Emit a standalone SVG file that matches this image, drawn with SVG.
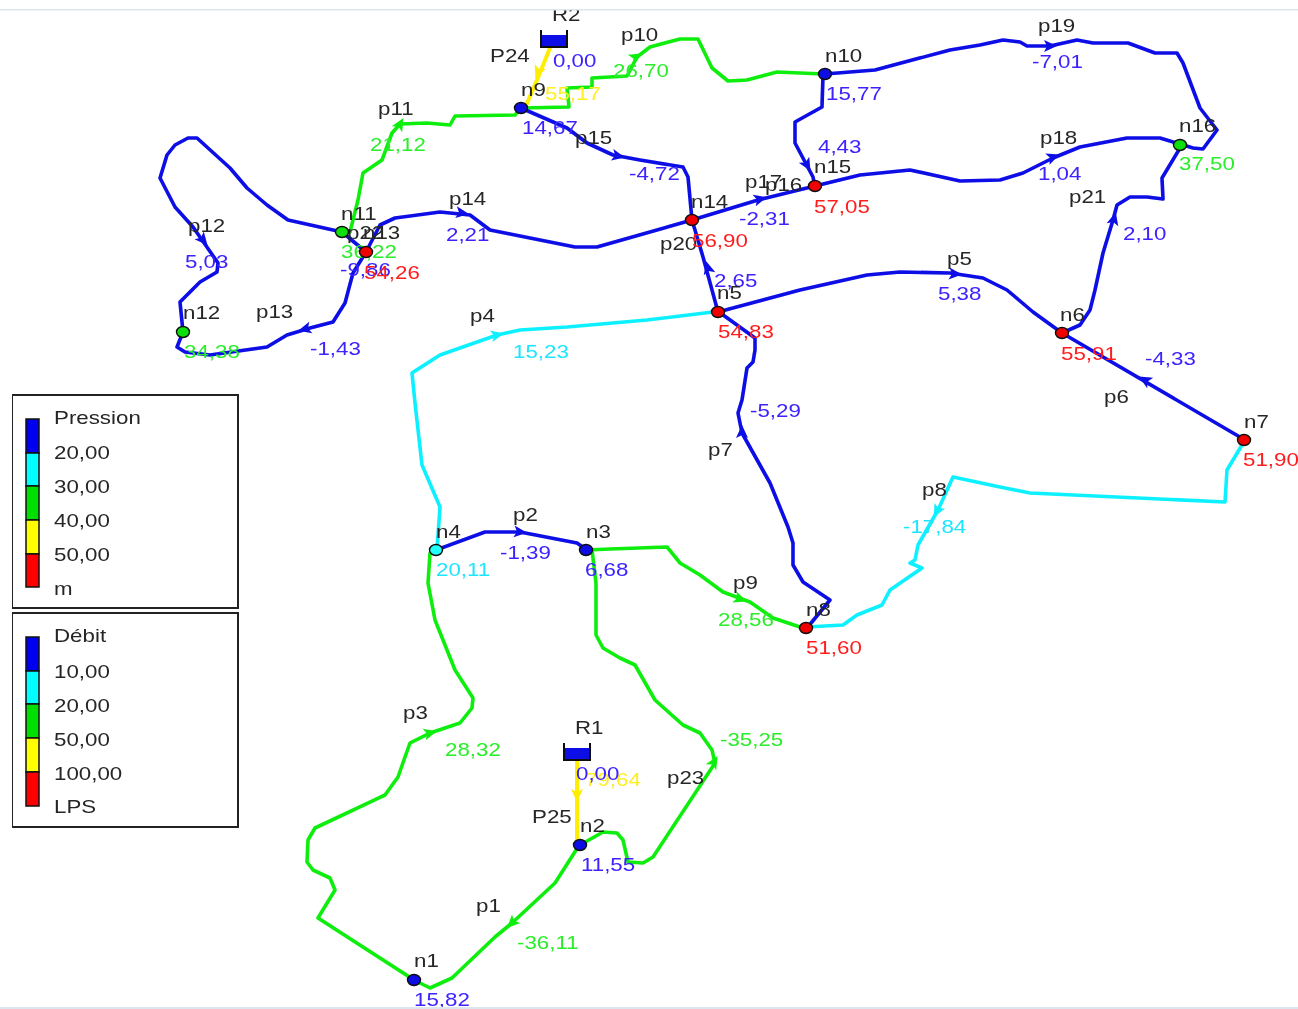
<svg xmlns="http://www.w3.org/2000/svg" xmlns:xlink="http://www.w3.org/1999/xlink" width="1298" height="1009" viewBox="0 0 1298 1009">
<style>
text{font-family:"Liberation Sans",Arial,sans-serif;font-size:18px;fill:#262626}
.tb{fill:#3c22ff}.tg{fill:#2aee2a}.tr{fill:#ff1e1e}.tc{fill:#1ee6ff}.ty{fill:#ffee22}
.pipe{fill:none;stroke-width:3.6;stroke-linejoin:round;stroke-linecap:round}
.b{stroke:#0a0ae6}.g{stroke:#10ee10}.c{stroke:#0ff0ff}.y{stroke:#ffee00;stroke-width:4}
.fb{fill:#0a0ae6}.fg{fill:#10ee10}.fc{fill:#0ff0ff}.fy{fill:#ffee00}
ellipse{stroke:#111;stroke-width:1.4}
.nb{fill:#0a0ae6}.ng{fill:#10e010}.nr{fill:#f00000}.nc{fill:#22ffff}
.box{fill:#fff;stroke:#222;stroke-width:2}
.seg{stroke:#111;stroke-width:1.5}
</style>
<defs>
<filter id="soft" x="0" y="0" width="100%" height="100%"><feGaussianBlur stdDeviation="0.4"/></filter>
<polygon id="a" points="7,0 -6,-6 -3,0 -6,6"/>
</defs>
<rect width="1298" height="1009" fill="#fff"/>
<g filter="url(#soft)">
<g id="connectors">
<path class="pipe g" d="M414 980L430 988L452 978L495 937L512 923L555 883L578 847"/>
<path class="pipe g" d="M414 980L318 918L335 890L330 878L313 870L307 862L308 840L315 828L385 795L398 777L405 757L410 743L430 733L460 723L472 708L473 698L455 670L435 620L428 583L430 553"/>
<path class="pipe b" d="M436 550L485 532L520 532L577 543L587 550"/>
<path class="pipe g" d="M586 550L610 549L667 547L680 563L700 575L723 592L750 602L773 618L800 627L806 628"/>
<path class="pipe g" d="M592 550L596 583L596 635L603 648L620 658L635 665L655 700L683 725L700 733L712 750L715 763L653 857L643 863L628 862L623 840L617 833L603 832L580 845"/>
<path class="pipe y" d="M577 760L577 845"/>
<path class="pipe y" d="M550 48L537 80L525 108"/>
<path class="pipe g" d="M522 108L569 107L567 88L592 87L592 78L627 76L637 57L650 47L680 39L698 39L712 68L728 81L747 80L777 72L823 74"/>
<path class="pipe g" d="M521 108L515 115L455 116L450 125L427 123L400 124L392 133L382 160L363 173L358 200L350 232"/>
<path class="pipe b" d="M521 108L567 128L587 143L613 155L640 160L683 167L688 177L692 220"/>
<path class="pipe b" d="M692 220L597 247L575 247L490 230L470 215L440 212L395 218L380 225L366 252"/>
<path class="pipe b" d="M692 220L758 200L815 186"/>
<path class="pipe b" d="M692 220L703 257L718 312"/>
<path class="pipe b" d="M718 312L800 290L867 275L900 272L950 273L983 278L1007 290L1033 312L1062 333"/>
<path class="pipe b" d="M1062 333L1245 440"/>
<path class="pipe b" d="M719 312L755 338L755 350L753 362L747 368L742 400L738 413L742 433L770 483L788 527L793 543L793 565L803 582L830 600L807 628"/>
<path class="pipe c" d="M807 627L843 625L857 615L882 605L890 590L922 568L910 563L915 560L918 545L938 510L953 477L1000 487L1030 493L1225 502L1227 470L1245 440"/>
<path class="pipe c" d="M713 312L647 320L567 327L520 330L497 335L440 355L412 373L415 403L422 465L440 507L437 550"/>
<path class="pipe b" d="M1062 333L1080 325L1090 310L1095 290L1103 253L1113 220L1117 205L1130 197L1147 197L1163 199L1162 178L1180 148"/>
<path class="pipe b" d="M815 186L860 175L910 170L960 181L1000 180L1023 173L1053 158L1080 147L1127 138L1160 138L1180 144"/>
<path class="pipe b" d="M825 74L875 70L950 50L980 45L1003 40L1020 42L1027 46L1050 46L1077 40L1093 43L1128 43L1155 53L1177 53L1183 63L1200 108L1217 130L1203 149L1193 148L1180 144"/>
<path class="pipe b" d="M823 75L822 107L795 122L795 143L813 177L815 187"/>
<path class="pipe b" d="M342 232L288 220L267 205L247 188L230 168L197 138L188 138L175 145L167 155L160 178L175 207L193 227L218 263L217 272L200 282L180 302L183 332"/>
<path class="pipe b" d="M183 332L177 347L185 352L210 355L267 347L287 335L310 328L333 322L345 303L353 273L366 252"/>
<path class="pipe b" d="M342 232L366 252"/>
<use xlink:href="#a" class="fg" transform="translate(512 923) rotate(135)"/>
<use xlink:href="#a" class="fb" transform="translate(520 532) rotate(6)"/>
<use xlink:href="#a" class="fg" transform="translate(430 733) rotate(-15)"/>
<use xlink:href="#a" class="fc" transform="translate(497 335) rotate(-12)"/>
<use xlink:href="#a" class="fb" transform="translate(955 274) rotate(5)"/>
<use xlink:href="#a" class="fb" transform="translate(1145 380) rotate(210)"/>
<use xlink:href="#a" class="fb" transform="translate(742 432) rotate(-90)"/>
<use xlink:href="#a" class="fc" transform="translate(937 511) rotate(118)"/>
<use xlink:href="#a" class="fg" transform="translate(740 599) rotate(20)"/>
<use xlink:href="#a" class="fg" transform="translate(636 57) rotate(-30)"/>
<use xlink:href="#a" class="fg" transform="translate(400 124) rotate(-60)"/>
<use xlink:href="#a" class="fb" transform="translate(203 240) rotate(50)"/>
<use xlink:href="#a" class="fb" transform="translate(305 329) rotate(165)"/>
<use xlink:href="#a" class="fb" transform="translate(462 213) rotate(8)"/>
<use xlink:href="#a" class="fb" transform="translate(618 156) rotate(12)"/>
<use xlink:href="#a" class="fb" transform="translate(760 199) rotate(-15)"/>
<use xlink:href="#a" class="fb" transform="translate(1053 157) rotate(-20)"/>
<use xlink:href="#a" class="fb" transform="translate(1050 46) rotate(0)"/>
<use xlink:href="#a" class="fb" transform="translate(708 268) rotate(-105)"/>
<use xlink:href="#a" class="fb" transform="translate(1114 219) rotate(-75)"/>
<use xlink:href="#a" class="fb" transform="translate(807 165) rotate(60)"/>
<use xlink:href="#a" class="fy" transform="translate(538 72) rotate(112)"/>
<use xlink:href="#a" class="fy" transform="translate(577 795) rotate(90)"/>
<use xlink:href="#a" class="fg" transform="translate(714 762) rotate(-60)"/>
</g>
<g id="pipe-labels">
<text transform="matrix(1.24 0 0 1 490 62)">P24</text>
<text transform="matrix(1.24 0 0 1 545 100)" class="ty">55,17</text>
<text transform="matrix(1.24 0 0 1 621 41)">p10</text>
<text transform="matrix(1.24 0 0 1 613 77)" class="tg">26,70</text>
<text transform="matrix(1.24 0 0 1 1038 32)">p19</text>
<text transform="matrix(1.24 0 0 1 1032 68)" class="tb">-7,01</text>
<text transform="matrix(1.24 0 0 1 818 153)" class="tb">4,43</text>
<text transform="matrix(1.24 0 0 1 575 144)">p15</text>
<text transform="matrix(1.24 0 0 1 629 180)" class="tb">-4,72</text>
<text transform="matrix(1.24 0 0 1 378 115)">p11</text>
<text transform="matrix(1.24 0 0 1 370 151)" class="tg">21,12</text>
<text transform="matrix(1.24 0 0 1 347 239)">p22</text>
<text transform="matrix(1.24 0 0 1 340 276)" class="tb">-9,86</text>
<text transform="matrix(1.24 0 0 1 188 232)">p12</text>
<text transform="matrix(1.24 0 0 1 185 268)" class="tb">5,03</text>
<text transform="matrix(1.24 0 0 1 256 318)">p13</text>
<text transform="matrix(1.24 0 0 1 310 355)" class="tb">-1,43</text>
<text transform="matrix(1.24 0 0 1 449 205)">p14</text>
<text transform="matrix(1.24 0 0 1 446 241)" class="tb">2,21</text>
<text transform="matrix(1.24 0 0 1 470 322)">p4</text>
<text transform="matrix(1.24 0 0 1 513 358)" class="tc">15,23</text>
<text transform="matrix(1.24 0 0 1 660 250)">p20</text>
<text transform="matrix(1.24 0 0 1 714 287)" class="tb">2,65</text>
<text transform="matrix(1.24 0 0 1 745 188)">p17</text>
<text transform="matrix(1.24 0 0 1 765 191)">p16</text>
<text transform="matrix(1.24 0 0 1 739 225)" class="tb">-2,31</text>
<text transform="matrix(1.24 0 0 1 1040 144)">p18</text>
<text transform="matrix(1.24 0 0 1 1038 180)" class="tb">1,04</text>
<text transform="matrix(1.24 0 0 1 1069 203)">p21</text>
<text transform="matrix(1.24 0 0 1 1123 240)" class="tb">2,10</text>
<text transform="matrix(1.24 0 0 1 947 265)">p5</text>
<text transform="matrix(1.24 0 0 1 938 300)" class="tb">5,38</text>
<text transform="matrix(1.24 0 0 1 1145 365)" class="tb">-4,33</text>
<text transform="matrix(1.24 0 0 1 1104 403)">p6</text>
<text transform="matrix(1.24 0 0 1 750 417)" class="tb">-5,29</text>
<text transform="matrix(1.24 0 0 1 708 456)">p7</text>
<text transform="matrix(1.24 0 0 1 922 496)">p8</text>
<text transform="matrix(1.24 0 0 1 903 533)" class="tc">-17,84</text>
<text transform="matrix(1.24 0 0 1 513 521)">p2</text>
<text transform="matrix(1.24 0 0 1 500 559)" class="tb">-1,39</text>
<text transform="matrix(1.24 0 0 1 733 589)">p9</text>
<text transform="matrix(1.24 0 0 1 718 626)" class="tg">28,56</text>
<text transform="matrix(1.24 0 0 1 403 719)">p3</text>
<text transform="matrix(1.24 0 0 1 445 756)" class="tg">28,32</text>
<text transform="matrix(1.24 0 0 1 585 786)" class="ty">79,64</text>
<text transform="matrix(1.24 0 0 1 720 746)" class="tg">-35,25</text>
<text transform="matrix(1.24 0 0 1 667 784)">p23</text>
<text transform="matrix(1.24 0 0 1 532 823)">P25</text>
<text transform="matrix(1.24 0 0 1 476 912)">p1</text>
<text transform="matrix(1.24 0 0 1 517 949)" class="tg">-36,11</text>
</g>
<g id="R1"><rect x="564" y="748" width="26" height="12" fill="#0a0ae6"/><path d="M564 743V760H590V743" fill="none" stroke="#111" stroke-width="2"/><text transform="matrix(1.24 0 0 1 575 734)">R1</text><text transform="matrix(1.24 0 0 1 576 780)" class="tb">0,00</text></g>
<g id="R2"><rect x="541" y="35" width="26" height="12" fill="#0a0ae6"/><path d="M541 30V47H567V30" fill="none" stroke="#111" stroke-width="2"/><text transform="matrix(1.24 0 0 1 552 21)">R2</text><text transform="matrix(1.24 0 0 1 553 67)" class="tb">0,00</text></g>
<g id="n1"><ellipse class="nb" cx="414" cy="980" rx="6.5" ry="5.5"/><text transform="matrix(1.24 0 0 1 414 967)">n1</text><text transform="matrix(1.24 0 0 1 414 1006)" class="tb">15,82</text></g>
<g id="n2"><ellipse class="nb" cx="580" cy="845" rx="6.5" ry="5.5"/><text transform="matrix(1.24 0 0 1 580 832)">n2</text><text transform="matrix(1.24 0 0 1 581 871)" class="tb">11,55</text></g>
<g id="n3"><ellipse class="nb" cx="586" cy="550" rx="6.5" ry="5.5"/><text transform="matrix(1.24 0 0 1 586 538)">n3</text><text transform="matrix(1.24 0 0 1 585 576)" class="tb">6,68</text></g>
<g id="n4"><ellipse class="nc" cx="436" cy="550" rx="6.5" ry="5.5"/><text transform="matrix(1.24 0 0 1 436 538)">n4</text><text transform="matrix(1.24 0 0 1 436 576)" class="tc">20,11</text></g>
<g id="n5"><ellipse class="nr" cx="718" cy="312" rx="6.5" ry="5.5"/><text transform="matrix(1.24 0 0 1 717 299)">n5</text><text transform="matrix(1.24 0 0 1 718 338)" class="tr">54,83</text></g>
<g id="n6"><ellipse class="nr" cx="1062" cy="333" rx="6.5" ry="5.5"/><text transform="matrix(1.24 0 0 1 1060 321)">n6</text><text transform="matrix(1.24 0 0 1 1061 360)" class="tr">55,91</text></g>
<g id="n7"><ellipse class="nr" cx="1244" cy="440" rx="6.5" ry="5.5"/><text transform="matrix(1.24 0 0 1 1244 428)">n7</text><text transform="matrix(1.24 0 0 1 1243 466)" class="tr">51,90</text></g>
<g id="n8"><ellipse class="nr" cx="806" cy="628" rx="6.5" ry="5.5"/><text transform="matrix(1.24 0 0 1 806 616)">n8</text><text transform="matrix(1.24 0 0 1 806 654)" class="tr">51,60</text></g>
<g id="n9"><ellipse class="nb" cx="521" cy="108" rx="6.5" ry="5.5"/><text transform="matrix(1.24 0 0 1 521 96)">n9</text><text transform="matrix(1.24 0 0 1 522 134)" class="tb">14,67</text></g>
<g id="n10"><ellipse class="nb" cx="825" cy="74" rx="6.5" ry="5.5"/><text transform="matrix(1.24 0 0 1 825 62)">n10</text><text transform="matrix(1.24 0 0 1 826 100)" class="tb">15,77</text></g>
<g id="n11"><ellipse class="ng" cx="342" cy="232" rx="6.5" ry="5.5"/><text transform="matrix(1.24 0 0 1 341 220)">n11</text><text transform="matrix(1.24 0 0 1 341 258)" class="tg">36,22</text></g>
<g id="n12"><ellipse class="ng" cx="183" cy="332" rx="6.5" ry="5.5"/><text transform="matrix(1.24 0 0 1 183 319)">n12</text><text transform="matrix(1.24 0 0 1 184 358)" class="tg">34,38</text></g>
<g id="n13"><ellipse class="nr" cx="366" cy="252" rx="6.5" ry="5.5"/><text transform="matrix(1.24 0 0 1 363 239)">n13</text><text transform="matrix(1.24 0 0 1 364 279)" class="tr">54,26</text></g>
<g id="n14"><ellipse class="nr" cx="692" cy="220" rx="6.5" ry="5.5"/><text transform="matrix(1.24 0 0 1 691 208)">n14</text><text transform="matrix(1.24 0 0 1 692 247)" class="tr">56,90</text></g>
<g id="n15"><ellipse class="nr" cx="815" cy="186" rx="6.5" ry="5.5"/><text transform="matrix(1.24 0 0 1 814 173)">n15</text><text transform="matrix(1.24 0 0 1 814 213)" class="tr">57,05</text></g>
<g id="n16"><ellipse class="ng" cx="1180" cy="145" rx="6.5" ry="5.5"/><text transform="matrix(1.24 0 0 1 1179 132)">n16</text><text transform="matrix(1.24 0 0 1 1179 170)" class="tg">37,50</text></g>
<g id="legend-pression">
<rect class="box" x="12" y="395" width="226" height="213"/>
<rect class="seg" x="26" y="419" width="13" height="34" fill="#0000f0"/>
<rect class="seg" x="26" y="453" width="13" height="33" fill="#00ffff"/>
<rect class="seg" x="26" y="486" width="13" height="34" fill="#00e000"/>
<rect class="seg" x="26" y="520" width="13" height="34" fill="#ffff00"/>
<rect class="seg" x="26" y="554" width="13" height="33" fill="#ff0000"/>
<text transform="matrix(1.24 0 0 1 54 424)">Pression</text>
<text transform="matrix(1.24 0 0 1 54 459)">20,00</text>
<text transform="matrix(1.24 0 0 1 54 493)">30,00</text>
<text transform="matrix(1.24 0 0 1 54 527)">40,00</text>
<text transform="matrix(1.24 0 0 1 54 561)">50,00</text>
<text transform="matrix(1.24 0 0 1 54 595)">m</text>
</g>
<g id="legend-debit">
<rect class="box" x="12" y="613" width="226" height="214"/>
<rect class="seg" x="26" y="637" width="13" height="34" fill="#0000f0"/>
<rect class="seg" x="26" y="671" width="13" height="33" fill="#00ffff"/>
<rect class="seg" x="26" y="704" width="13" height="34" fill="#00e000"/>
<rect class="seg" x="26" y="738" width="13" height="34" fill="#ffff00"/>
<rect class="seg" x="26" y="772" width="13" height="34" fill="#ff0000"/>
<text transform="matrix(1.24 0 0 1 54 642)">Débit</text>
<text transform="matrix(1.24 0 0 1 54 678)">10,00</text>
<text transform="matrix(1.24 0 0 1 54 712)">20,00</text>
<text transform="matrix(1.24 0 0 1 54 746)">50,00</text>
<text transform="matrix(1.24 0 0 1 54 780)">100,00</text>
<text transform="matrix(1.24 0 0 1 54 813)">LPS</text>
</g>
</g>
<rect x="0" y="0" width="1298" height="9" fill="#fff"/>
<rect x="0" y="9" width="1298" height="1.5" fill="#dce6ee"/>
<rect x="0" y="1007" width="1298" height="2" fill="#dce6ee"/>
</svg>
